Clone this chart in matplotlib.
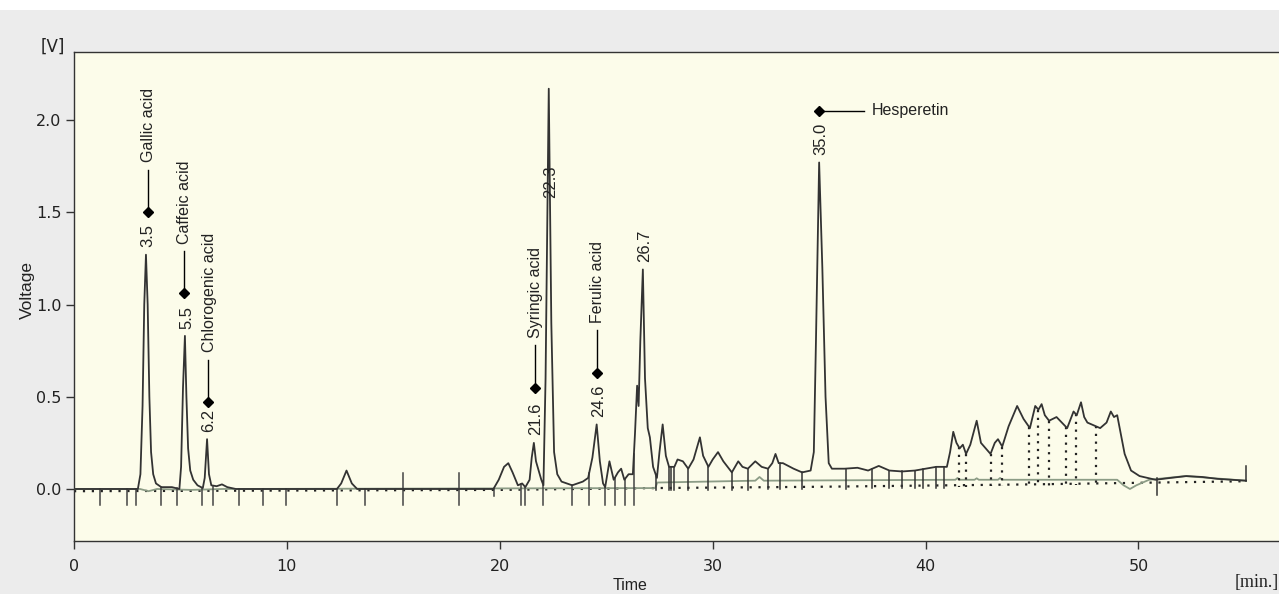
import numpy as np
import matplotlib
matplotlib.use("Agg")
import matplotlib.pyplot as plt

# main detector trace (time [min], voltage [V])
trace_t = [0.0, 1.2, 3.0, 3.12, 3.22, 3.3, 3.38, 3.46, 3.54, 3.62, 3.72, 3.85, 4.1, 4.6,
           4.95, 5.03, 5.12, 5.21, 5.28, 5.36, 5.46, 5.6, 5.8, 6.05, 6.14, 6.25, 6.34, 6.45,
           6.7, 6.95, 7.2, 7.6, 12.35, 12.55, 12.8, 13.05, 13.3, 19.7, 19.95, 20.2, 20.4,
           20.6, 20.85, 21.05, 21.2, 21.4, 21.5, 21.6, 21.7, 21.8, 21.95, 22.05, 22.15, 22.3,
           22.42, 22.55, 22.7, 22.9, 23.4, 23.9, 24.15, 24.35, 24.55, 24.7, 24.85, 24.95,
           25.15, 25.35, 25.55, 25.7, 25.85, 26.05, 26.25, 26.35, 26.45, 26.52, 26.6, 26.72,
           26.82, 26.95, 27.05, 27.2, 27.38, 27.5, 27.65, 27.8, 27.95, 28.05, 28.2, 28.35,
           28.6, 28.85, 29.1, 29.4, 29.55, 29.8, 30.0, 30.25, 30.5, 30.9, 31.2, 31.4, 31.65,
           32.0, 32.3, 32.6, 32.8, 32.95, 33.1, 33.3, 33.8, 34.2, 34.6, 34.75, 34.85, 35.0,
           35.15, 35.3, 35.45, 35.6, 36.2, 36.8, 37.3, 37.8, 38.3, 38.9, 39.5, 40.0, 40.5,
           41.0, 41.15, 41.3, 41.45, 41.6, 41.75, 41.9, 42.1, 42.4, 42.6, 43.05, 43.25, 43.4,
           43.6, 43.9, 44.3, 44.6, 44.9, 45.15, 45.3, 45.45, 45.6, 45.8, 46.15, 46.65, 46.85,
           46.95, 47.1, 47.3, 47.45, 47.6, 48.2, 48.5, 48.7, 48.85, 49.0, 49.2, 49.35, 49.65,
           50.05, 50.8, 51.5, 52.25, 53.0, 53.7, 55.05]
trace_v = [0.0, 0.0, 0.0, 0.08, 0.45, 1.0, 1.27, 1.0, 0.5, 0.2, 0.08, 0.03, 0.01, 0.01,
           0.0, 0.12, 0.55, 0.83, 0.5, 0.22, 0.1, 0.05, 0.02, 0.005, 0.06, 0.27, 0.08, 0.02,
           0.015, 0.025, 0.01, 0.0, 0.0, 0.03, 0.10, 0.03, 0.0, 0.0, 0.05, 0.12, 0.14,
           0.09, 0.02, 0.03, 0.01, 0.05, 0.17, 0.25, 0.15, 0.11, 0.05, 0.02, 0.6, 2.17,
           0.9, 0.2, 0.08, 0.04, 0.02, 0.04, 0.06, 0.17, 0.35, 0.15, 0.03, 0.01,
           0.15, 0.05, 0.09, 0.11, 0.05, 0.08, 0.08, 0.3, 0.56, 0.45, 0.8, 1.19,
           0.6, 0.33, 0.28, 0.12, 0.06, 0.2, 0.35, 0.18, 0.12, 0.12, 0.12, 0.16,
           0.15, 0.11, 0.16, 0.28, 0.18, 0.12, 0.16, 0.2, 0.15, 0.09, 0.15, 0.12, 0.11,
           0.15, 0.12, 0.11, 0.14, 0.19, 0.14, 0.14, 0.11, 0.09, 0.1, 0.2, 0.8, 1.77,
           1.2, 0.5, 0.14, 0.11, 0.11, 0.115, 0.1, 0.125, 0.1, 0.095, 0.1, 0.11, 0.12,
           0.12, 0.2, 0.31, 0.25, 0.22, 0.24, 0.19, 0.24, 0.37, 0.25, 0.19, 0.25, 0.27,
           0.23, 0.34, 0.45, 0.38, 0.33, 0.45, 0.43, 0.46, 0.4, 0.37, 0.39, 0.33, 0.39,
           0.42, 0.40, 0.47, 0.39, 0.36, 0.33, 0.36, 0.42, 0.39, 0.40, 0.28, 0.19, 0.10,
           0.07, 0.05, 0.06, 0.07, 0.065, 0.055, 0.045]

# second (greenish) trace
green_t = [0.0, 3.1, 3.5, 3.9, 5.5, 7.0, 27.3, 27.4, 32.0, 32.2, 32.4, 41.4, 41.5, 41.6,
           42.3, 42.4, 42.5, 43.4, 43.5, 43.6, 49.0, 49.3, 49.6, 49.9, 50.5, 52.2, 55.05]
green_v = [0.0, 0.0, -0.012, 0.0, -0.005, 0.0, 0.005, 0.035, 0.045, 0.065, 0.045, 0.05, 0.06,
           0.05, 0.05, 0.058, 0.05, 0.05, 0.06, 0.05, 0.05, 0.02, 0.0, 0.02, 0.05, 0.07, 0.045]

# dotted integration baseline
base_t = [0.0, 20.0, 27.3, 35.0, 45.0, 55.05]
base_v = [-0.012, -0.005, 0.005, 0.012, 0.025, 0.042]

# integration marks
low_marks = [1.22, 2.48, 2.9, 4.07, 4.82, 6.02, 6.53, 7.77, 8.87, 9.95, 12.35, 13.65,
             21.0, 21.2, 22.05, 23.4, 24.2, 24.95, 25.4, 25.87, 26.3]
tall_marks = [15.45, 18.1]
drop_solid = [27.35, 27.95, 28.05, 28.2, 28.85, 29.8, 30.9, 31.65, 32.6, 33.15, 34.2,
              36.25, 37.5, 38.3, 38.9, 39.5, 39.9, 40.5, 40.85]
drop_dotted = [41.55, 41.9, 43.05, 43.6, 44.85, 45.3, 45.8, 46.6, 47.05, 48.0]

# peak retention-time labels
peak_t = [3.38, 5.21, 6.25, 21.6, 22.3, 24.55, 26.72, 35.0]
peak_v = [1.27, 0.83, 0.27, 0.25, 2.17, 0.35, 1.19, 1.77]
peak_text = ["3.5", "5.5", "6.2", "21.6", "22.3", "24.6", "26.7", "35.0"]

# identified compounds
comp_names = ["Gallic acid", "Caffeic acid", "Chlorogenic acid", "Syringic acid", "Ferulic acid"]
comp_t = [3.47, 5.15, 6.3, 21.65, 24.55]
comp_level = [1.5, 1.06, 0.47, 0.55, 0.63]
hesp_t, hesp_level = 35.0, 2.05

narrow = ['Liberation Sans Narrow', 'Liberation Sans', 'DejaVu Sans']

fig = plt.figure(figsize=(12.79, 5.94), dpi=100)
fig.patch.set_facecolor('#ececec')
fig.patches.append(plt.Rectangle((0, 0.983), 1, 0.02, transform=fig.transFigure,
                                 facecolor='white', edgecolor='none'))
ax = fig.add_axes([74 / 1279, 53 / 594, 1 - 74 / 1279, 489 / 594])
ax.set_facecolor('#fcfcea')
ax.set_xlim(0, 56.6)
ax.set_ylim(-0.282, 2.369)

ax.plot(base_t, base_v, color='#222222', lw=1.6, linestyle=(0, (1, 3)), zorder=2)
ax.plot(green_t, green_v, color='#8c9c86', lw=1.3, zorder=3)
ax.plot(trace_t, trace_v, color='#333333', lw=1.3, zorder=4)

for t in low_marks:
    top = np.interp(t, trace_t, trace_v)
    ax.plot([t, t], [top, -0.085], color='#444444', lw=1.1, zorder=3)
for t in tall_marks:
    ax.plot([t, t], [0.087, -0.087], color='#444444', lw=1.1, zorder=3)
ax.plot([19.75, 19.75], [0.0, -0.04], color='#444444', lw=1.1, zorder=3)
for t in drop_solid:
    top = np.interp(t, trace_t, trace_v)
    bot = np.interp(t, base_t, base_v) - 0.012
    ax.plot([t, t], [top, bot], color='#333333', lw=1.1, zorder=3)
for t in drop_dotted:
    top = np.interp(t, trace_t, trace_v)
    bot = np.interp(t, base_t, base_v) - 0.008
    ax.plot([t, t], [top, bot], color='#222222', lw=1.6, linestyle=(0, (1, 2.5)), zorder=3)
ax.plot([50.85, 50.85], [0.06, -0.03], color='#333333', lw=1.1, zorder=3)
ax.plot([55.05, 55.05], [0.045, 0.125], color='#333333', lw=1.1, zorder=3)

for t, v, s in zip(peak_t, peak_v, peak_text):
    y = 1.58 if s == "22.3" else v + 0.04
    ax.text(t + 0.08, y, s, rotation=90, ha='center', va='bottom', fontsize=12,
            family='Liberation Sans', color='#222222', zorder=5)

for name, t, lv in zip(comp_names, comp_t, comp_level):
    ax.plot([t], [lv], marker='D', markersize=5, color='black', zorder=6)
    ax.plot([t, t], [lv + 0.03, lv + 0.23], color='black', lw=1.0, zorder=6)
    ax.text(t + 0.05, lv + 0.27, name, rotation=90, ha='center', va='bottom',
            fontsize=11.5, family=narrow, color='#222222', zorder=6)

ax.plot([hesp_t], [hesp_level], marker='D', markersize=5, color='black', zorder=6)
ax.plot([hesp_t + 0.15, hesp_t + 2.1], [hesp_level, hesp_level], color='black', lw=1.0, zorder=6)
ax.text(hesp_t + 2.45, hesp_level, "Hesperetin", ha='left', va='center',
        fontsize=11.5, family=narrow, color='#222222', zorder=6)

ax.set_xticks([0, 10, 20, 30, 40, 50])
ax.set_yticks([0.0, 0.5, 1.0, 1.5, 2.0])
ax.set_yticklabels(["0.0", "0.5", "1.0", "1.5", "2.0"])
ax.tick_params(axis='both', direction='out', length=6, width=1, colors='#333333',
               labelsize=11.5, labelcolor='#222222')
ax.tick_params(axis='x', pad=7)
ax.tick_params(axis='y', pad=3)
for side in ['left', 'top', 'bottom']:
    ax.spines[side].set_color('#333333')
    ax.spines[side].set_linewidth(1.0)
ax.spines['right'].set_visible(False)

fig.text(27 / 1279, 1 - 290 / 594, "Voltage", rotation=90, ha='center', va='center',
         fontsize=12.5, family='Liberation Sans', color='#222222')
fig.text(53 / 1279, 1 - 47 / 594, "[V]", ha='center', va='center', fontsize=12,
         color='#222222')
fig.text(630 / 1279, 1.5 / 594, "Time", ha='center', va='bottom', fontsize=11.5,
         family='Liberation Sans', color='#222222')
fig.text(1235 / 1279, 1 - 582 / 594, "[min.]", ha='left', va='center', fontsize=13,
         family='Liberation Serif', color='#222222')

fig.savefig('out.png', dpi=100, facecolor=fig.get_facecolor())
